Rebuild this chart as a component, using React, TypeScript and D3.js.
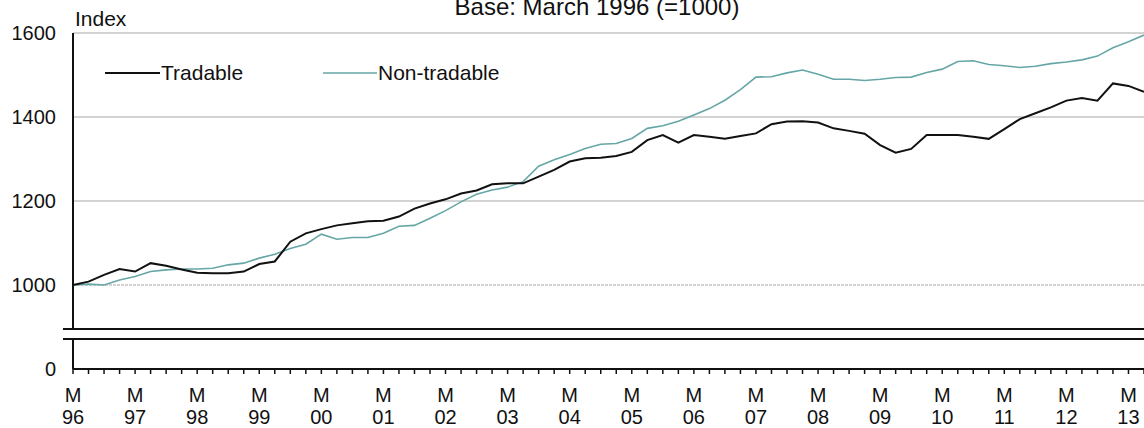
import React from "react";
import * as d3 from "d3";

const years = ["96","97","98","99","00","01","02","03","04","05","06","07","08","09","10","11","12","13"];
const yTicks = [1000, 1200, 1400, 1600];

const tradable = [
  1000,1008,1024,1038,1032,1052,1046,1037,1029,1028,
  1028,1032,1050,1056,1103,1123,1133,1142,1147,1152,
  1153,1163,1182,1194,1204,1218,1225,1240,1242,1242,
  1258,1274,1294,1302,1303,1307,1317,1345,1357,1339,
  1357,1353,1348,1355,1361,1383,1389,1390,1387,1373,
  1367,1360,1333,1315,1324,1357,1357,1357,1353,1348,
  1371,1395,1409,1423,1439,1445,1439,1480,1474,1460
];

const nonTradable = [
  1000,1002,1000,1012,1020,1032,1036,1038,1038,1040,
  1048,1052,1064,1073,1087,1097,1121,1109,1113,1113,
  1123,1140,1142,1159,1177,1198,1216,1226,1233,1246,
  1283,1298,1311,1325,1335,1337,1349,1373,1379,1390,
  1405,1420,1440,1465,1495,1496,1505,1512,1502,1490,
  1490,1487,1490,1494,1495,1506,1514,1532,1534,1525,
  1522,1518,1521,1527,1531,1536,1545,1565,1579,1595
];

const W = 1144, H = 428;
const FONT = "'Liberation Sans', Arial, sans-serif";
const TEAL = "#66a6a6";

export default function App() {
  const n = tradable.length;
  const x = d3.scaleLinear().domain([0, n - 1]).range([73, 1144]);
  const y = d3.scaleLinear().domain([1000, 1600]).range([285, 33]);
  const yBottom = 369;
  const breakTop = 329, breakBot = 339;
  const line = d3.line<number>().x((_, i) => x(i)).y((d) => y(d));
  const quarters = d3.range(n);

  return (
    <svg width={W} height={H} style={{ position: "absolute", left: 0, top: 0, background: "#fff" }} fontFamily={FONT}>
      <text x={597} y={15} fontSize={24} textAnchor="middle" fill="#111">Base: March 1996 (=1000)</text>
      <text x={75} y={26} fontSize={21} fill="#111">Index</text>
      {yTicks.map((t) => (
        <g key={t}>
          <line x1={73} x2={W} y1={y(t)} y2={y(t)} stroke="#c4c4c4" strokeWidth={1.5}
            strokeDasharray={t === 1000 ? "3,1" : undefined} />
          <text x={56} y={y(t)} dy="0.35em" fontSize={20} textAnchor="end" fill="#111">{t}</text>
        </g>
      ))}
      <text x={56} y={yBottom} dy="0.35em" fontSize={20} textAnchor="end" fill="#111">0</text>
      {/* axes */}
      <line x1={73} x2={73} y1={33} y2={breakTop} stroke="#111" strokeWidth={2} />
      <line x1={73} x2={73} y1={breakBot} y2={yBottom} stroke="#111" strokeWidth={2} />
      <line x1={63} x2={W} y1={breakTop} y2={breakTop} stroke="#111" strokeWidth={2} />
      <line x1={63} x2={W} y1={breakBot} y2={breakBot} stroke="#111" strokeWidth={2} />
      <line x1={73} x2={W} y1={yBottom} y2={yBottom} stroke="#111" strokeWidth={2} />
      {quarters.map((q) => (
        <line key={q} x1={x(q)} x2={x(q)} y1={yBottom} y2={yBottom + 5} stroke="#111" strokeWidth={1.5} />
      ))}
      {years.map((yr, k) => (
        <g key={yr} fontSize={20} fill="#111">
          <text x={x(k * 4)} y={402} textAnchor="middle">M</text>
          <text x={x(k * 4)} y={424} textAnchor="middle">{yr}</text>
        </g>
      ))}
      {/* series */}
      <path d={line(nonTradable) || ""} fill="none" stroke={TEAL} strokeWidth={1.6} />
      <path d={line(tradable) || ""} fill="none" stroke="#111" strokeWidth={2} />
      {/* legend */}
      <line x1={105} x2={160} y1={73} y2={73} stroke="#111" strokeWidth={2} />
      <text x={161} y={80} fontSize={21} fill="#111">Tradable</text>
      <line x1={323} x2={377} y1={73} y2={73} stroke={TEAL} strokeWidth={1.6} />
      <text x={378} y={80} fontSize={21} fill="#111">Non-tradable</text>
    </svg>
  );
}
